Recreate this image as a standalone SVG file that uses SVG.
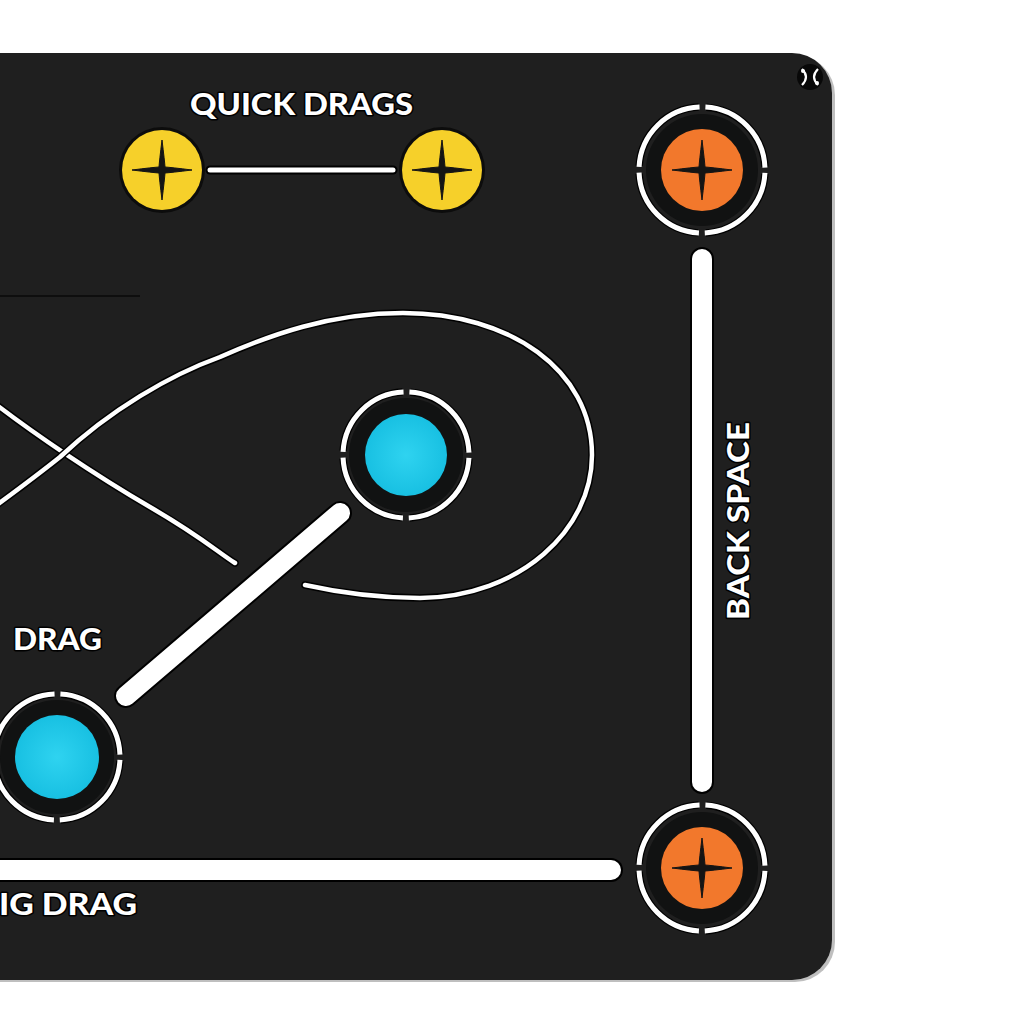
<svg xmlns="http://www.w3.org/2000/svg" width="1024" height="1024" viewBox="0 0 1024 1024">
<defs>
  <style>
    .lbl{font-family:Lato,"Open Sans","Liberation Sans",sans-serif;font-weight:900;font-size:30px;fill:#fff;stroke:#000;stroke-width:3;paint-order:stroke;stroke-linejoin:round}
    .ringbg{stroke:#000;stroke-width:7.5;fill:none;stroke-dasharray:90.96 8;stroke-dashoffset:-4}
    .ring{stroke:#fff;stroke-width:5;fill:none;stroke-dasharray:92.96 6;stroke-dashoffset:-3}
    .well{fill:#111212}
    .barbg{stroke:#000;stroke-width:24;stroke-linecap:round;fill:none}
    .bar{stroke:#fff;stroke-width:20;stroke-linecap:round;fill:none}
    .curvebg{stroke:#000;stroke-width:7.5;stroke-linecap:round;fill:none}
    .curve{stroke:#fff;stroke-width:4.5;stroke-linecap:round;fill:none}
    .star{fill:#141414;stroke:#141414;stroke-width:1;stroke-linejoin:round}
  </style>
  <radialGradient id="cyan" cx="0.5" cy="0.5" r="0.5">
    <stop offset="0" stop-color="#2fd3f0"/>
    <stop offset="1" stop-color="#18c0e2"/>
  </radialGradient>
  <path id="star" d="M0,-30 Q2.6,-9 3,-3 Q9,-2.6 30,0 Q9,2.6 3,3 Q2.6,9 0,30 Q-2.6,9 -3,3 Q-9,2.6 -30,0 Q-9,-2.6 -3,-3 Q-2.6,-9 0,-30 Z"/>
</defs>

<rect x="0" y="0" width="1024" height="1024" fill="#ffffff"/>
<!-- board -->
<rect x="-50" y="55" width="885" height="927" rx="40" fill="#000" opacity="0.25"/>
<rect x="-50" y="53" width="882" height="927" rx="40" fill="#1f1f1f"/>
<line x1="0" y1="296" x2="140" y2="296" stroke="#0e0e0e" stroke-width="2"/>

<!-- logo icon -->
<g id="logo">
  <circle cx="810" cy="77" r="13" fill="#080808"/>
  <path d="M802,69 Q810,77 802,85 M818,69 Q810,77 818,85" stroke="#fff" stroke-width="2.2" fill="none"/>
  <circle cx="803" cy="71" r="2" fill="#fff"/>
  <circle cx="817" cy="83" r="2" fill="#fff"/>
</g>

<!-- connectors -->
<g id="connectors">
  <line x1="210" y1="170" x2="393" y2="170" stroke="#000" stroke-width="9" stroke-linecap="round"/>
  <line x1="210" y1="170" x2="393" y2="170" stroke="#fff" stroke-width="5" stroke-linecap="round"/>

  <path class="curvebg" d="M -20,392 C 30,432 100,478 150,507 S 215,550 235,563"/>
  <path class="curve" d="M -20,392 C 30,432 100,478 150,507 S 215,550 235,563"/>
  <path class="curvebg" d="M 305,585 C 350,595 385,598 420,598 C 520,597 592,530 592,455 C 592,370 510,313 403,313 C 330,313 270,335 220,357 C 170,375 110,410 60,457 C 40,473 20,488 -10,510"/>
  <path class="curve" d="M 305,585 C 350,595 385,598 420,598 C 520,597 592,530 592,455 C 592,370 510,313 403,313 C 330,313 270,335 220,357 C 170,375 110,410 60,457 C 40,473 20,488 -10,510"/>

  <line class="barbg" x1="340" y1="513" x2="126" y2="696"/>
  <line class="bar" x1="340" y1="513" x2="126" y2="696"/>
  <line class="barbg" x1="702" y1="259" x2="702" y2="782"/>
  <line class="bar" x1="702" y1="259" x2="702" y2="782"/>
  <line class="barbg" x1="-30" y1="870" x2="611" y2="870"/>
  <line class="bar" x1="-30" y1="870" x2="611" y2="870"/>
</g>

<!-- nodes -->
<g id="yellow-left">
  <circle cx="162" cy="170" r="43" fill="#0c0c0c"/>
  <circle cx="162" cy="170" r="40" fill="#f6d02a"/>
  <use href="#star" class="star" transform="translate(162,170)"/>
</g>
<g id="yellow-right">
  <circle cx="442" cy="170" r="43" fill="#0c0c0c"/>
  <circle cx="442" cy="170" r="40" fill="#f6d02a"/>
  <use href="#star" class="star" transform="translate(442,170)"/>
</g>

<g id="orange-top">
  <circle class="well" cx="702" cy="170" r="56"/>
  <circle class="ringbg" cx="702" cy="170" r="63"/>
  <circle class="ring" cx="702" cy="170" r="63"/>
  <circle cx="702" cy="170" r="41" fill="#f2782c"/>
  <use href="#star" class="star" transform="translate(702,170)"/>
</g>
<g id="orange-bottom">
  <circle class="well" cx="702" cy="868" r="56"/>
  <circle class="ringbg" cx="702" cy="868" r="63"/>
  <circle class="ring" cx="702" cy="868" r="63"/>
  <circle cx="702" cy="868" r="41" fill="#f2782c"/>
  <use href="#star" class="star" transform="translate(702,868)"/>
</g>

<g id="cyan-top">
  <circle class="well" cx="406" cy="455" r="57"/>
  <circle class="ringbg" cx="406" cy="455" r="63"/>
  <circle class="ring" cx="406" cy="455" r="63"/>
  <circle cx="406" cy="455" r="41" fill="url(#cyan)"/>
</g>
<g id="cyan-bottom">
  <circle class="well" cx="57" cy="757" r="57"/>
  <circle class="ringbg" cx="57" cy="757" r="63"/>
  <circle class="ring" cx="57" cy="757" r="63"/>
  <circle cx="57" cy="757" r="42" fill="url(#cyan)"/>
</g>

<!-- labels -->
<g id="labels">
  <text class="lbl" x="190" y="115" textLength="223" lengthAdjust="spacingAndGlyphs">QUICK DRAGS</text>
  <text class="lbl" x="13" y="650" textLength="89" lengthAdjust="spacingAndGlyphs">DRAG</text>
  <text class="lbl" x="-1" y="915" textLength="138" lengthAdjust="spacingAndGlyphs">IG DRAG</text>
  <text class="lbl" transform="translate(749,521) rotate(-90)" x="-99" y="0" textLength="198" lengthAdjust="spacingAndGlyphs">BACK SPACE</text>
</g>
</svg>
